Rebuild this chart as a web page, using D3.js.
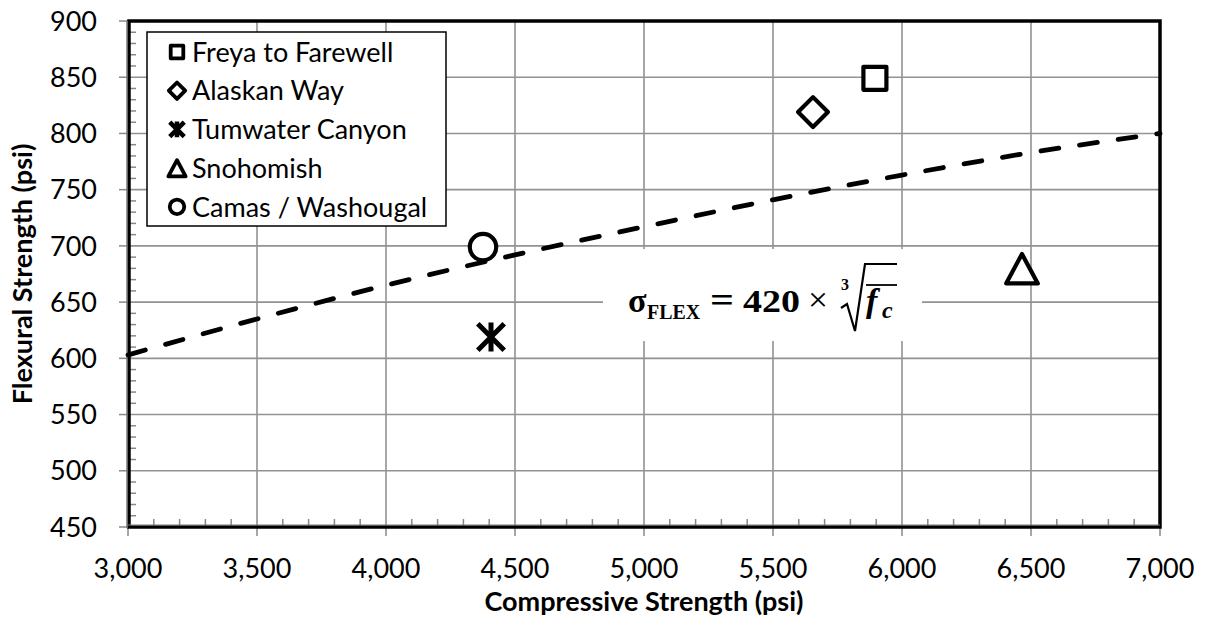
<!DOCTYPE html>
<html><head><meta charset="utf-8">
<script src="https://cdn.jsdelivr.net/npm/d3@7"></script>
<style>body{margin:0;background:#fff} svg{display:block}</style>
</head><body><svg id="chart" width="1205" height="618"></svg>
<script>
// ---------- data ----------
const seriesNames = ["Freya to Farewell", "Alaskan Way", "Tumwater Canyon", "Snohomish", "Camas / Washougal"];
const seriesSymbols = ["square", "diamond", "asterisk", "triangle", "circle"];
const compressive = [5895, 5655, 4407, 6465, 4376];
const flexural = [849, 819, 619, 680, 699];
const fitX = [3000, 3500, 4000, 4500, 5000, 5500, 6000, 6500, 7000];
const fitY = [603, 635, 665, 692, 717, 741, 763, 783, 800];
const xTicks = [3000, 3500, 4000, 4500, 5000, 5500, 6000, 6500, 7000];
const yTicks = [450, 500, 550, 600, 650, 700, 750, 800, 850, 900];
const xTitle = "Compressive Strength (psi)";
const yTitle = "Flexural Strength (psi)";

// ---------- layout ----------
const L = 128, R = 1160, T = 21, B = 527;
const FONT = "Lato, 'Open Sans', sans-serif";
const svg = d3.select("#chart");
const x = d3.scaleLinear().domain([3000, 7000]).range([L, R]);
const y = d3.scaleLinear().domain([450, 900]).range([B, T]);

// gridlines
const grid = svg.append("g").attr("stroke", "#929292").attr("stroke-width", 1.6);
grid.selectAll(".vg").data(xTicks.slice(1, -1)).join("line")
  .attr("x1", d => x(d)).attr("x2", d => x(d)).attr("y1", T).attr("y2", B);
grid.selectAll(".hg").data(yTicks.slice(1, -1)).join("line")
  .attr("y1", d => y(d)).attr("y2", d => y(d)).attr("x1", L).attr("x2", R);

// minor ticks (inside)
const minorX = d3.range(3000, 7001, 100).filter(v => v % 500 !== 0);
const minorY = d3.range(450, 901, 10).filter(v => v % 50 !== 0);
const ticks = svg.append("g").attr("stroke", "#888").attr("stroke-width", 1.5);
ticks.selectAll(".mx").data(minorX).join("line")
  .attr("x1", d => x(d)).attr("x2", d => x(d)).attr("y1", B).attr("y2", B - 8);
ticks.selectAll(".my").data(minorY).join("line")
  .attr("y1", d => y(d)).attr("y2", d => y(d)).attr("x1", L).attr("x2", L + 8);
// major ticks (outside)
ticks.selectAll(".Mx").data(xTicks).join("line")
  .attr("x1", d => x(d)).attr("x2", d => x(d)).attr("y1", B).attr("y2", B + 9);
ticks.selectAll(".My").data(yTicks).join("line")
  .attr("y1", d => y(d)).attr("y2", d => y(d)).attr("x1", L).attr("x2", L - 9);

// plot border
svg.append("rect").attr("x", L + 1).attr("y", T).attr("width", R - L - 1).attr("height", B - T)
  .attr("fill", "none").attr("stroke", "#000").attr("stroke-width", 3.5);
svg.append("line").attr("x1", L - 1).attr("x2", L - 1).attr("y1", T).attr("y2", B + 1)
  .attr("stroke", "#777").attr("stroke-width", 1.5);
svg.append("line").attr("x1", L).attr("x2", R).attr("y1", B - 2).attr("y2", B - 2)
  .attr("stroke", "#777").attr("stroke-width", 1.2);

// tick labels
const fmt = d3.format(",");
svg.append("g").selectAll("text").data(xTicks).join("text")
  .attr("x", d => x(d)).attr("y", 578).attr("text-anchor", "middle")
  .attr("font-family", FONT).attr("font-size", 27).attr("fill", "#000").text(d => fmt(d));
svg.append("g").selectAll("text").data(yTicks).join("text")
  .attr("x", 97).attr("y", d => y(d)).attr("dy", "0.36em").attr("text-anchor", "end")
  .attr("font-family", FONT).attr("font-size", 27).attr("fill", "#000").text(d => d);

// axis titles
svg.append("text").attr("x", (L + R) / 2).attr("y", 611).attr("text-anchor", "middle")
  .attr("font-family", FONT).attr("font-size", 27).attr("font-weight", "bold").text(xTitle);
svg.append("text").attr("transform", `translate(32,${(T + B) / 2}) rotate(-90)`).attr("text-anchor", "middle")
  .attr("font-family", FONT).attr("font-size", 27).attr("font-weight", "bold").text(yTitle);

// fit line
const line = d3.line().x((d, i) => x(fitX[i])).y(d => y(d)).curve(d3.curveMonotoneX);
svg.append("path").datum(fitY).attr("d", line).attr("fill", "none")
  .attr("stroke", "#000").attr("stroke-width", 4.8).attr("stroke-dasharray", "18,21")
  .attr("stroke-linecap", "round");

// marker paths
function markerPath(sym, s) {
  const p = d3.path();
  if (sym === "square") { p.rect(-s, -s, 2 * s, 2 * s); }
  else if (sym === "diamond") { const k = s * 1.3; p.moveTo(0, -k); p.lineTo(k, 0); p.lineTo(0, k); p.lineTo(-k, 0); p.closePath(); }
  else if (sym === "asterisk") { const k = s * 1.15; p.moveTo(-k, -k); p.lineTo(k, k); p.moveTo(k, -k); p.lineTo(-k, k); p.moveTo(0, -k * 1.1); p.lineTo(0, k * 1.1); }
  else if (sym === "triangle") { const k = s * 1.25; p.moveTo(0, -k); p.lineTo(k * 1.1, k * 1.05); p.lineTo(-k * 1.1, k * 1.05); p.closePath(); }
  else if (sym === "circle") { p.arc(0, 0, s * 1.15, 0, 2 * Math.PI); }
  return p.toString();
}

// points
svg.append("g").selectAll("path").data(compressive).join("path")
  .attr("transform", (d, i) => `translate(${x(d)},${y(flexural[i])})`)
  .attr("d", (d, i) => markerPath(seriesSymbols[i], 11.5))
  .attr("fill", (d, i) => seriesSymbols[i] === "asterisk" ? "none" : "#fff")
  .attr("stroke", "#000").attr("stroke-width", (d, i) => seriesSymbols[i] === "asterisk" ? 5 : 4.2)
  .attr("stroke-linejoin", "round");

// legend
const lg = svg.append("g");
lg.append("rect").attr("x", 147).attr("y", 32).attr("width", 299).attr("height", 194)
  .attr("fill", "#fff").attr("stroke", "#000").attr("stroke-width", 1.5);
seriesNames.forEach((name, i) => {
  const cy = 52 + i * 38.7;
  lg.append("path").attr("transform", `translate(177,${cy})`)
    .attr("d", markerPath(seriesSymbols[i], 6.3))
    .attr("fill", seriesSymbols[i] === "asterisk" ? "none" : "#fff")
    .attr("stroke", "#000").attr("stroke-width", seriesSymbols[i] === "asterisk" ? 4.5 : 3.8)
    .attr("stroke-linejoin", "round");
  lg.append("text").attr("x", 192).attr("y", cy).attr("dy", "0.36em")
    .attr("font-family", FONT).attr("font-size", 27).attr("fill", "#000").text(name);
});

// equation box
const eq = svg.append("g");
eq.append("rect").attr("x", 603).attr("y", 249).attr("width", 319).attr("height", 92).attr("fill", "#fff");
const SERIF = "'Liberation Serif', 'DejaVu Serif', serif";
const base = 312;
eq.append("text").attr("x", 628).attr("y", base).attr("font-family", SERIF).attr("font-weight", "bold")
  .attr("font-size", 34).text("σ");
eq.append("text").attr("x", 647).attr("y", base + 7).attr("font-family", SERIF).attr("font-weight", "bold")
  .attr("font-size", 22).attr("textLength", 53).attr("lengthAdjust", "spacingAndGlyphs").text("FLEX");
eq.append("text").attr("x", 710).attr("y", base).attr("font-family", SERIF).attr("font-weight", "bold")
  .attr("font-size", 36).attr("textLength", 24).attr("lengthAdjust", "spacingAndGlyphs").text("=");
eq.append("text").attr("x", 743).attr("y", base).attr("font-family", SERIF).attr("font-weight", "bold")
  .attr("font-size", 31).attr("textLength", 57).attr("lengthAdjust", "spacingAndGlyphs").text("420");
eq.append("text").attr("x", 808).attr("y", base - 1).attr("font-family", SERIF)
  .attr("font-size", 34).attr("textLength", 20).attr("lengthAdjust", "spacingAndGlyphs").text("×");
eq.append("text").attr("x", 841).attr("y", 290).attr("font-family", SERIF).attr("font-weight", "bold")
  .attr("font-size", 16).text("3");
eq.append("path").attr("d", "M841,308 L847,304 L855,331 L865,264 L897,264")
  .attr("fill", "none").attr("stroke", "#000").attr("stroke-width", 2.2);
eq.append("line").attr("x1", 866).attr("x2", 897).attr("y1", 285).attr("y2", 285)
  .attr("stroke", "#000").attr("stroke-width", 1.8);
eq.append("text").attr("x", 866).attr("y", base).attr("font-family", SERIF).attr("font-weight", "bold")
  .attr("font-style", "italic").attr("font-size", 34).text("f");
eq.append("text").attr("x", 882).attr("y", base + 6).attr("font-family", SERIF).attr("font-weight", "bold")
  .attr("font-style", "italic").attr("font-size", 24).text("c");
</script></body></html>
